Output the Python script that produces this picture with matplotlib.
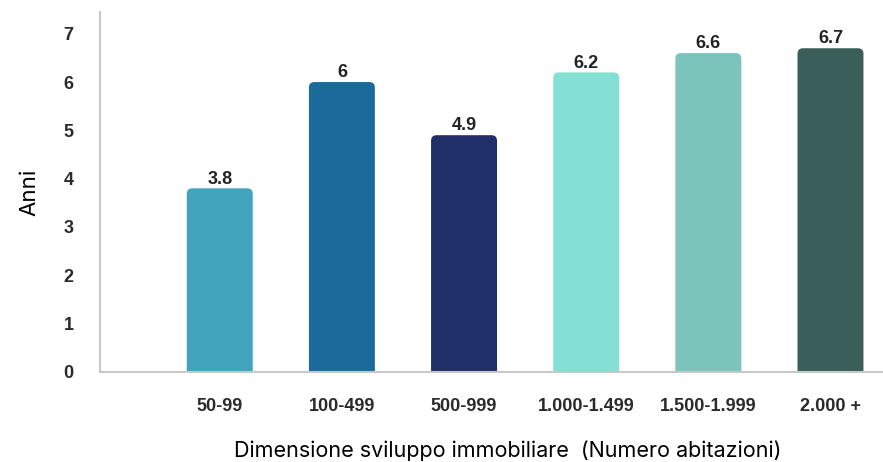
import matplotlib.pyplot as plt
from matplotlib.patches import FancyBboxPatch

categories = ["50-99", "100-499", "500-999", "1.000-1.499", "1.500-1.999", "2.000 +"]
years = [3.8, 6, 4.9, 6.2, 6.6, 6.7]
colors = ["#42a3bd", "#1a6a9b", "#212f69", "#84dfd5", "#7bc4bb", "#3a5f5b"]

fig = plt.figure(figsize=(8.83, 4.62), dpi=100)
ax = fig.add_axes([0.1133, 0.195, 0.8867, 0.779])

positions = list(range(1, len(categories) + 1))
bars = ax.bar(positions, years, width=0.54, color=colors, zorder=2)

ax.set_xlim(0.02, 6.43)
ax.set_ylim(0, 7.45)

# pixels per data unit, used to keep corner radius round
px_x = 783 / (6.43 - 0.02)
px_y = 360 / 7.45

# round off the top corners of each bar
for b in bars:
    b.set_visible(False)
    x, w, h = b.get_x(), b.get_width(), b.get_height()
    patch = FancyBboxPatch((x, -0.3), w, h + 0.3,
                           boxstyle="round,pad=0,rounding_size=0.045",
                           mutation_aspect=px_x / px_y,
                           facecolor=b.get_facecolor(), edgecolor="none",
                           zorder=2)
    ax.add_patch(patch)

for p, v in zip(positions, years):
    ax.text(p, v + 0.1, f"{v:g}", ha="center", va="baseline",
            fontsize=13, fontweight="bold", color="#222222",
            family="Liberation Sans")

ax.set_xticks(positions)
ax.set_xticklabels(categories)
ax.set_yticks(range(0, 8))

for lbl in ax.get_xticklabels() + ax.get_yticklabels():
    lbl.set_family("Liberation Sans")
    lbl.set_fontweight("bold")
    lbl.set_fontsize(13)
    lbl.set_color("#2a2a2a")

ax.tick_params(axis="x", length=0, pad=19)
ax.tick_params(axis="y", length=0, pad=19)

for side in ["top", "right"]:
    ax.spines[side].set_visible(False)
for side in ["left", "bottom"]:
    ax.spines[side].set_color("#c8c8c8")
    ax.spines[side].set_linewidth(1.5)

ax.set_ylabel("Anni", fontsize=16, family="Inter")
ax.yaxis.set_label_coords(-0.077, 0.5)
ax.set_xlabel("Dimensione sviluppo immobiliare  (Numero abitazioni)",
              fontsize=15.5, family="Inter")
ax.xaxis.set_label_coords(0.521, -0.19)

fig.savefig("out.png", dpi=100)
